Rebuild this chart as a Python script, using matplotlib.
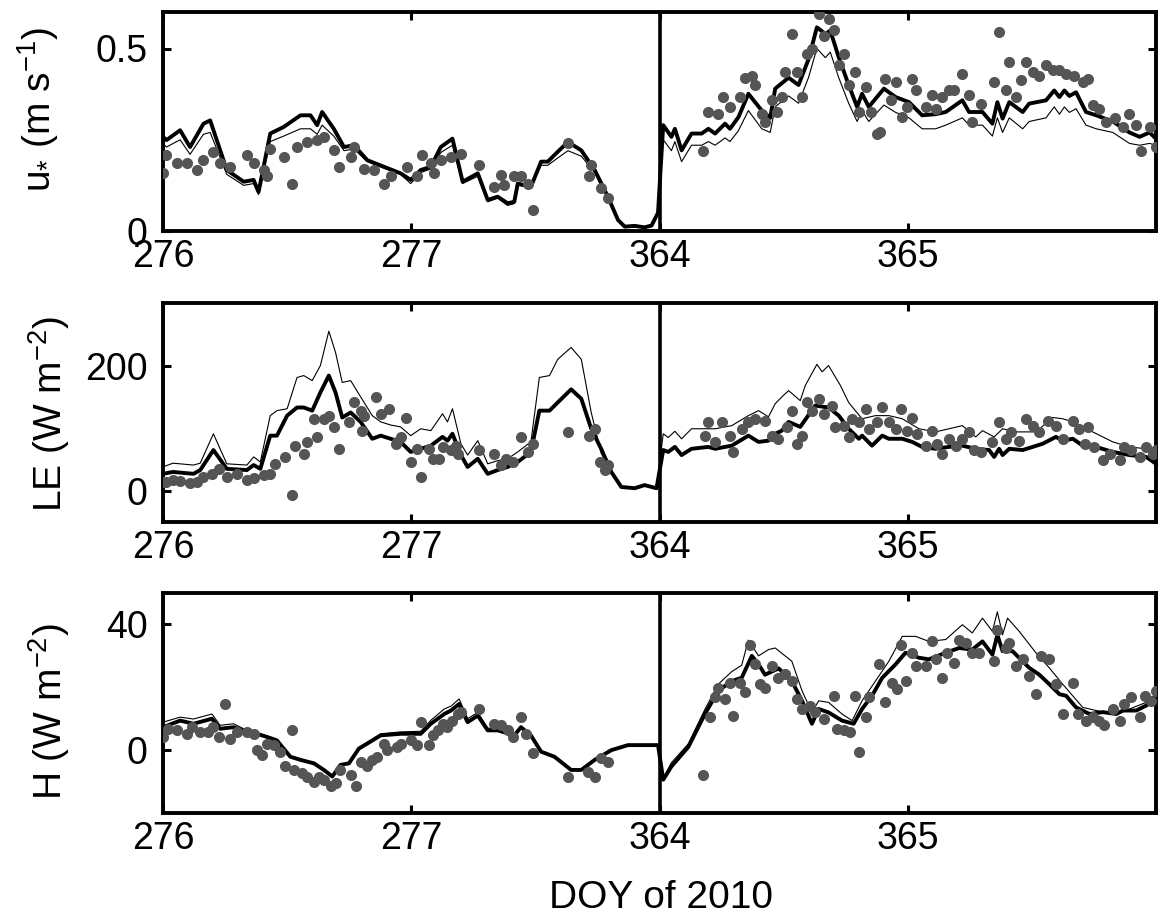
import matplotlib
matplotlib.use("Agg")
import matplotlib.pyplot as plt

plt.rcParams['font.family'] = ['Liberation Sans', 'DejaVu Sans']
plt.rcParams['mathtext.fontset'] = 'custom'
plt.rcParams['mathtext.rm'] = 'Liberation Sans'
plt.rcParams['mathtext.it'] = 'Liberation Sans'
plt.rcParams['mathtext.default'] = 'regular'

# x positions are days from the start of the plotted window:
# 0-2 -> DOY 276-278, 2-4 -> DOY 364-366 (two windows side by side)
tick_pos = [0, 1, 2, 3]
tick_labels = ['276', '277', '364', '365']

# ---- friction velocity u* ----
u_line_t = [0.00, 0.014, 0.069, 0.109, 0.163, 0.19, 0.257, 0.325, 0.365, 0.385,
            0.432, 0.486, 0.554, 0.594, 0.621, 0.641, 0.688, 0.729, 0.769, 0.823,
            0.89, 0.957, 0.998, 1.038, 1.079, 1.119, 1.166, 1.207, 1.268, 1.308,
            1.348, 1.388, 1.415, 1.429, 1.482, 1.523, 1.55, 1.59, 1.631, 1.685,
            1.739, 1.792, 1.833, 1.86, 1.9, 1.94, 1.968, 1.994,
            2.015, 2.048, 2.062, 2.089, 2.129, 2.17, 2.197, 2.224, 2.264, 2.284,
            2.318, 2.358, 2.412, 2.446, 2.466, 2.52, 2.56, 2.6, 2.634, 2.668,
            2.688, 2.722, 2.762, 2.796, 2.816, 2.843, 2.904, 2.951, 3.005, 3.058,
            3.112, 3.153, 3.22, 3.247, 3.301, 3.341, 3.361, 3.382, 3.409, 3.463,
            3.489, 3.557, 3.59, 3.611, 3.631, 3.651, 3.678, 3.718, 3.759, 3.826,
            3.893, 3.934, 3.974, 4.0]
u_thick = [0.258, 0.249, 0.276, 0.23, 0.294, 0.303, 0.167, 0.135, 0.14, 0.107,
           0.267, 0.285, 0.317, 0.317, 0.29, 0.326, 0.28, 0.23, 0.235, 0.194,
           0.176, 0.158, 0.14, 0.167, 0.176, 0.23, 0.253, 0.135, 0.158, 0.085,
           0.094, 0.076, 0.08, 0.13, 0.121, 0.19, 0.19, 0.217, 0.244, 0.221,
           0.167, 0.094, 0.03, 0.012, 0.014, 0.01, 0.015, 0.05,
           0.29, 0.258, 0.28, 0.221, 0.267, 0.267, 0.28, 0.267, 0.294, 0.28,
           0.312, 0.376, 0.33, 0.31, 0.39, 0.42, 0.40, 0.47, 0.558, 0.54,
           0.549, 0.476, 0.40, 0.34, 0.376, 0.34, 0.39, 0.367, 0.353, 0.317,
           0.32, 0.326, 0.358, 0.326, 0.326, 0.294, 0.353, 0.308, 0.353, 0.326,
           0.349, 0.358, 0.385, 0.367, 0.385, 0.37, 0.38, 0.326, 0.317, 0.30,
           0.27, 0.258, 0.27, 0.253]
u_thin = [0.24, 0.23, 0.25, 0.21, 0.265, 0.27, 0.155, 0.125, 0.13, 0.10,
          0.245, 0.26, 0.28, 0.28, 0.265, 0.29, 0.26, 0.22, 0.225, 0.19,
          0.172, 0.155, 0.13, 0.16, 0.17, 0.215, 0.235, 0.13, 0.15, 0.08,
          0.09, 0.07, 0.075, 0.125, 0.12, 0.18, 0.18, 0.20, 0.22, 0.205,
          0.16, 0.09, 0.03, 0.012, 0.014, 0.01, 0.015, 0.05,
          0.25, 0.22, 0.245, 0.19, 0.235, 0.235, 0.245, 0.235, 0.255, 0.245,
          0.275, 0.33, 0.28, 0.27, 0.34, 0.37, 0.35, 0.42, 0.50, 0.475,
          0.49, 0.42, 0.35, 0.30, 0.33, 0.30, 0.345, 0.325, 0.31, 0.28,
          0.28, 0.29, 0.31, 0.29, 0.29, 0.26, 0.31, 0.27, 0.31, 0.28,
          0.30, 0.31, 0.34, 0.32, 0.34, 0.325, 0.335, 0.29, 0.28, 0.27,
          0.24, 0.235, 0.24, 0.235]
u_obs_t = [0.00, 0.014, 0.055, 0.095, 0.136, 0.163, 0.203, 0.23, 0.27, 0.338,
           0.365, 0.405, 0.419, 0.432, 0.486, 0.52, 0.54, 0.581, 0.621, 0.648,
           0.688, 0.709, 0.756, 0.769, 0.81, 0.849, 0.89, 0.917, 0.984, 1.025,
           1.045, 1.079, 1.092, 1.119, 1.16, 1.2, 1.274, 1.335, 1.361, 1.375,
           1.415, 1.442, 1.469, 1.489, 1.631, 1.718, 1.725, 1.765, 1.792,
           2.177, 2.197, 2.237, 2.257, 2.284, 2.325, 2.345, 2.372, 2.385, 2.412,
           2.426, 2.453, 2.473, 2.493, 2.506, 2.533, 2.553, 2.574, 2.594, 2.614,
           2.641, 2.661, 2.681, 2.702, 2.722, 2.742, 2.762, 2.789, 2.803, 2.83,
           2.85, 2.877, 2.89, 2.91, 2.931, 2.951, 2.978, 2.998, 3.018, 3.032,
           3.072, 3.099, 3.112, 3.139, 3.166, 3.186, 3.22, 3.247, 3.26, 3.294,
           3.348, 3.368, 3.395, 3.409, 3.436, 3.456, 3.476, 3.503, 3.53, 3.557,
           3.584, 3.611, 3.638, 3.671, 3.705, 3.725, 3.745, 3.772, 3.799, 3.833,
           3.867, 3.893, 3.92, 3.941, 3.974, 4.0]
u_obs = [0.158, 0.208, 0.185, 0.185, 0.167, 0.194, 0.217, 0.185, 0.176, 0.208,
         0.185, 0.167, 0.15, 0.226, 0.203, 0.13, 0.23, 0.244, 0.249, 0.258,
         0.221, 0.176, 0.203, 0.23, 0.17, 0.167, 0.13, 0.15, 0.176, 0.15,
         0.208, 0.185, 0.158, 0.194, 0.203, 0.212, 0.18, 0.121, 0.153, 0.126,
         0.15, 0.15, 0.13, 0.057, 0.24, 0.15, 0.18, 0.117, 0.09,
         0.22, 0.326, 0.32, 0.367, 0.34, 0.367, 0.42, 0.426, 0.40, 0.32,
         0.30, 0.36, 0.326, 0.367, 0.435, 0.54, 0.435, 0.367, 0.485, 0.50,
         0.595, 0.535, 0.58, 0.55, 0.454, 0.485, 0.40, 0.435, 0.326, 0.394,
         0.326, 0.267, 0.272, 0.417, 0.358, 0.408, 0.312, 0.34, 0.417, 0.385,
         0.34, 0.372, 0.335, 0.367, 0.385, 0.385, 0.43, 0.372, 0.30, 0.349,
         0.408, 0.545, 0.385, 0.463, 0.367, 0.413, 0.463, 0.435, 0.426, 0.454,
         0.44, 0.44, 0.43, 0.426, 0.408, 0.417, 0.344, 0.335, 0.30, 0.31,
         0.285, 0.32, 0.29, 0.22, 0.285, 0.23]

# ---- latent heat flux LE ----
le_thick_t = [0.00, 0.04, 0.123, 0.15, 0.203, 0.257, 0.338, 0.365, 0.392, 0.432,
              0.459, 0.5, 0.54, 0.567, 0.601, 0.634, 0.668, 0.695, 0.722, 0.756,
              0.796, 0.843, 0.877, 0.917, 0.957, 0.998, 1.038, 1.079, 1.126, 1.146,
              1.166, 1.2, 1.227, 1.268, 1.308, 1.348, 1.388, 1.429, 1.482, 1.516,
              1.557, 1.59, 1.644, 1.685, 1.725, 1.765, 1.806, 1.846, 1.9, 1.94,
              1.968, 1.988,
              2.015, 2.035, 2.062, 2.089, 2.129, 2.197, 2.224, 2.291, 2.358, 2.399,
              2.439, 2.466, 2.493, 2.52, 2.567, 2.627, 2.681, 2.722, 2.762, 2.803,
              2.816, 2.856, 2.897, 2.924, 2.978, 3.018, 3.058, 3.112, 3.166, 3.22,
              3.274, 3.328, 3.348, 3.368, 3.382, 3.409, 3.463, 3.543, 3.597, 3.624,
              3.665, 3.705, 3.759, 3.826, 3.893, 3.961, 4.0]
le_thick = [27, 30, 27, 33, 65, 35, 33, 41, 35, 88,
            88, 120, 133, 133, 128, 157, 184, 157, 117, 125,
            110, 83, 88, 83, 78, 62, 67, 72, 86, 80,
            91, 57, 38, 51, 27, 33, 38, 46, 62, 128,
            128, 141, 162, 147, 99, 67, 30, 6, 4, 9,
            6, 4,
            65, 62, 70, 57, 67, 70, 67, 72, 88, 78,
            80, 91, 96, 110, 102, 136, 133, 120, 99, 83,
            88, 72, 88, 83, 83, 78, 70, 67, 70, 72,
            67, 65, 54, 67, 57, 67, 65, 75, 86, 80,
            83, 72, 70, 62, 57, 54, 43]
le_thin_t = [0.00, 0.04, 0.123, 0.15, 0.203, 0.257, 0.338, 0.365, 0.392, 0.432,
             0.459, 0.5, 0.54, 0.567, 0.601, 0.634, 0.668, 0.695, 0.722, 0.756,
             0.796, 0.843, 0.877, 0.917, 0.957, 0.998, 1.038, 1.079, 1.126, 1.146,
             1.166, 1.2, 1.227, 1.268, 1.308, 1.348, 1.388, 1.429, 1.482, 1.516,
             1.557, 1.59, 1.644, 1.685, 1.725, 1.765, 1.806, 1.846, 1.9, 1.94,
             1.968, 1.988,
             2.015, 2.035, 2.062, 2.089, 2.129, 2.197, 2.224, 2.291, 2.358, 2.399,
             2.439, 2.466, 2.493, 2.52, 2.567, 2.587, 2.634, 2.655, 2.681, 2.729,
             2.762, 2.816, 2.87, 2.924, 2.978, 3.045, 3.112, 3.166, 3.22, 3.274,
             3.301, 3.348, 3.382, 3.436, 3.516, 3.584, 3.624, 3.665, 3.745, 3.826,
             3.893, 3.961, 4.0]
le_thin = [38, 44, 41, 44, 91, 43, 41, 54, 46, 120,
           128, 131, 181, 184, 176, 200, 255, 221, 173, 176,
           150, 120, 110, 105, 102, 88, 99, 96, 123, 110,
           131, 75, 57, 80, 43, 48, 51, 62, 78, 181,
           184, 210, 229, 210, 125, 60, 32, 6, 4, 9,
           6, 4,
           91, 85, 95, 83, 99, 99, 99, 104, 120, 128,
           118, 139, 150, 160, 144, 168, 202, 190, 200, 168,
           141, 115, 120, 120, 115, 99, 94, 99, 104, 86,
           96, 86, 99, 94, 94, 117, 115, 110, 94, 78,
           70, 67, 62]
le_obs_t = [0.00, 0.014, 0.04, 0.069, 0.109, 0.136, 0.163, 0.197, 0.224, 0.257,
            0.297, 0.338, 0.365, 0.405, 0.432, 0.453, 0.493, 0.52, 0.533, 0.567,
            0.581, 0.608, 0.621, 0.648, 0.668, 0.688, 0.709, 0.749, 0.769, 0.796,
            0.803, 0.81, 0.856, 0.877, 0.91, 0.937, 0.944, 0.957, 0.977, 0.998,
            1.025, 1.038, 1.072, 1.086, 1.112, 1.126, 1.16, 1.18, 1.187, 1.274,
            1.335, 1.361, 1.382, 1.409, 1.442, 1.469, 1.489, 1.631, 1.718, 1.739,
            1.759, 1.779, 1.792,
            2.183, 2.197, 2.224, 2.251, 2.284, 2.298, 2.331, 2.358, 2.385, 2.425,
            2.452, 2.479, 2.513, 2.533, 2.553, 2.574, 2.594, 2.614, 2.641, 2.661,
            2.695, 2.708, 2.742, 2.762, 2.776, 2.803, 2.83, 2.843, 2.877, 2.897,
            2.924, 2.951, 2.971, 2.998, 3.018, 3.038, 3.072, 3.099, 3.119, 3.139,
            3.166, 3.193, 3.22, 3.247, 3.267, 3.294, 3.341, 3.368, 3.395, 3.415,
            3.449, 3.476, 3.503, 3.53, 3.564, 3.597, 3.624, 3.665, 3.691, 3.712,
            3.725, 3.752, 3.786, 3.813, 3.853, 3.873, 3.9, 3.934, 3.961, 3.988,
            4.0]
le_obs = [14, 14, 17, 15, 12, 14, 22, 27, 35, 22,
          27, 17, 20, 25, 27, 43, 54, -7, 72, 59,
          78, 115, 86, 115, 120, 102, 67, 110, 141, 128,
          96, 120, 149, 123, 131, 75, 78, 86, 117, 46,
          67, 22, 67, 51, 51, 70, 65, 72, 59, 65,
          59, 41, 51, 46, 86, 62, 75, 94, 88, 99,
          46, 33, 41,
          88, 110, 78, 110, 88, 62, 99, 110, 115, 112,
          88, 83, 102, 128, 75, 88, 141, 128, 147, 123,
          136, 102, 104, 86, 115, 110, 131, 99, 110, 133,
          110, 99, 131, 96, 117, 91, 72, 96, 75, 59,
          83, 72, 83, 94, 65, 62, 78, 110, 83, 94,
          80, 115, 104, 94, 112, 104, 83, 112, 99, 75,
          102, 70, 49, 59, 49, 70, 65, 54, 70, 59,
          65]

# ---- sensible heat flux H ----
h_thick_t = [0.00, 0.069, 0.123, 0.197, 0.23, 0.284, 0.338, 0.378, 0.419, 0.459,
             0.513, 0.554, 0.608, 0.648, 0.682, 0.715, 0.749, 0.789, 0.823, 0.877,
             0.957, 1.038, 1.079, 1.133, 1.16, 1.193, 1.227, 1.268, 1.308, 1.348,
             1.415, 1.442, 1.482, 1.523, 1.577, 1.644, 1.685, 1.739, 1.806, 1.873,
             1.994,
             2.015, 2.048, 2.116, 2.183, 2.237, 2.291, 2.331, 2.372, 2.399, 2.425,
             2.452, 2.48, 2.533, 2.574, 2.614, 2.641, 2.681, 2.735, 2.782, 2.816,
             2.856, 2.897, 2.951, 2.991, 3.045, 3.085, 3.153, 3.207, 3.26, 3.301,
             3.341, 3.361, 3.382, 3.422, 3.489, 3.53, 3.57, 3.611, 3.638, 3.678,
             3.732, 3.786, 3.84, 3.867, 3.92, 3.961, 4.0]
h_thick = [7.3, 9.4, 8.4, 10, 6.8, 7.3, 5.8, 5.2, 4.2, 3.1,
           -2.1, -3.1, -4.2, -6.3, -8.4, -4.7, -4.2, 0.5, 2.1, 4.7,
           5.2, 5.2, 8.4, 11.5, 12.6, 14.7, 8.9, 11, 6.3, 6.3,
           4.7, 7.3, 4.7, -0.5, -2.1, -6.3, -6.3, -3.1, 0, 1.6,
           1.6,
           -9.4, -5.2, 1, 11.5, 18.9, 22, 23, 30, 27.3, 24,
           25, 26, 22, 15.7, 8.4, 13.1, 12, 9.4, 8.4, 13.1,
           17.3, 23, 27.3, 31, 29.4, 28.9, 31, 32.5, 32, 34.6,
           30.4, 36.7, 31.5, 31.5, 26.2, 24, 21, 17.8, 17.3, 13.6,
           11.5, 12.1, 11.5, 12.6, 12.6, 14.2, 16.3]
h_thin_t = [0.00, 0.069, 0.123, 0.197, 0.23, 0.284, 0.338, 0.378, 0.419, 0.459,
            0.513, 0.554, 0.608, 0.648, 0.682, 0.715, 0.749, 0.789, 0.823, 0.877,
            0.957, 1.038, 1.079, 1.133, 1.16, 1.193, 1.227, 1.268, 1.308, 1.348,
            1.415, 1.442, 1.482, 1.523, 1.577, 1.644, 1.685, 1.739, 1.806, 1.873,
            1.994,
            2.015, 2.048, 2.116, 2.183, 2.237, 2.291, 2.331, 2.358, 2.399, 2.439,
            2.466, 2.533, 2.574, 2.614, 2.641, 2.681, 2.735, 2.776, 2.816, 2.87,
            2.924, 2.978, 3.032, 3.085, 3.153, 3.22, 3.26, 3.301, 3.341, 3.361,
            3.382, 3.402, 3.449, 3.516, 3.57, 3.624, 3.705, 3.759, 3.84, 3.893,
            3.961, 4.0]
h_thin = [8.9, 10.5, 9.9, 11.5, 7.9, 8.4, 6.3, 5.5, 4.5, 3.3,
          -1.8, -2.8, -4, -6, -8.2, -4.5, -4, 0.8, 2.5, 5.2,
          5.8, 6, 9.5, 13.1, 14, 16.3, 10, 12, 7, 6.8,
          5, 7.5, 5, -0.3, -2, -6, -6, -3, 0, 1.6,
          1.6,
          -9, -4, 2, 13, 21, 25, 27, 35, 30, 32,
          32.5, 28.3, 18.9, 12, 15.7, 15.2, 11.5, 9.4, 15.7, 22,
          28.3, 36.2, 36.2, 34.6, 35.2, 39.9, 37.3, 42, 37.8, 44,
          36.7, 42, 37.8, 31, 26.2, 21, 13.6, 12.6, 11.5, 13.1,
          15.2, 17.8]
h_obs_t = [0.00, 0.02, 0.055, 0.095, 0.116, 0.15, 0.183, 0.203, 0.224, 0.25,
           0.27, 0.297, 0.338, 0.365, 0.378, 0.399, 0.419, 0.446, 0.473, 0.493,
           0.52, 0.527, 0.56, 0.581, 0.608, 0.628, 0.648, 0.675, 0.695, 0.715,
           0.756, 0.776, 0.796, 0.823, 0.843, 0.863, 0.89, 0.903, 0.944, 0.957,
           0.998, 1.025, 1.038, 1.072, 1.086, 1.106, 1.126, 1.146, 1.166, 1.187,
           1.2, 1.274, 1.335, 1.361, 1.388, 1.409, 1.442, 1.462, 1.489, 1.631,
           1.712, 1.739, 1.765, 1.792,
           2.177, 2.203, 2.224, 2.237, 2.264, 2.284, 2.298, 2.325, 2.345, 2.365,
           2.385, 2.405, 2.425, 2.452, 2.479, 2.506, 2.533, 2.553, 2.574, 2.607,
           2.627, 2.661, 2.702, 2.715, 2.742, 2.769, 2.789, 2.803, 2.83, 2.843,
           2.883, 2.91, 2.937, 2.957, 2.971, 2.991, 3.018, 3.032, 3.072, 3.099,
           3.112, 3.139, 3.159, 3.186, 3.207, 3.234, 3.26, 3.287, 3.348, 3.361,
           3.395, 3.409, 3.436, 3.463, 3.489, 3.516, 3.537, 3.57, 3.597, 3.624,
           3.665, 3.685, 3.718, 3.745, 3.772, 3.792, 3.826, 3.853, 3.873, 3.9,
           3.934, 3.954, 3.981, 4.0]
h_obs = [4.2, 6.8, 6.3, 5.2, 7.3, 5.8, 5.8, 7.3, 4.2, 14.7,
         3.7, 5.8, 5.8, 5.2, 0, -1.6, 2.1, 1.6, -0.5, -5.2,
         6.3, -6.3, -7.3, -8.4, -10, -8.4, -9.4, -11.5, -10.5, -6.3,
         -7.9, -11.5, -3.7, -5.2, -3.1, -2.1, 2.1, 0, 1, 2.1,
         3.1, 1.6, 8.9, 1.6, 4.7, 6.3, 8.4, 7.3, 9.4, 11.5,
         12.1, 13.1, 8.4, 7.9, 6.3, 4.2, 10.5, 5.2, -1, -8.4,
         -6.8, -8.4, -2.6, -3.7,
         -7.9, 10.5, 16.8, 19.9, 16.3, 21.5, 11, 21.5, 18.4, 33.6,
         27.3, 21, 19.9, 26.8, 23.1, 24.1, 22, 16.3, 13.1, 14.2,
         12.1, 10, 17.3, 6.8, 6.3, 5.8, 17.3, -0.5, 10.5, 16.8,
         27.3, 15.2, 21.5, 19.4, 33.6, 22, 31, 26.8, 26.8, 34.6,
         28.9, 23.1, 31, 27.8, 35.2, 34.1, 31, 31, 28.3, 38.3,
         32.5, 34.1, 26.8, 28.9, 23.6, 17.8, 29.9, 28.9, 21, 11.5,
         21.5, 11.5, 9.4, 10.5, 9.4, 7.9, 13.1, 9.4, 14.7, 16.8,
         10.5, 17.3, 15.7, 18.9]

panels = [
    (u_line_t, u_thick, u_line_t, u_thin, u_obs_t, u_obs,
     (0, 0.6), [0, 0.5], ['0', '0.5'], 'u$_{*}$ (m s$^{-1}$)'),
    (le_thick_t, le_thick, le_thin_t, le_thin, le_obs_t, le_obs,
     (-50, 300), [0, 200], ['0', '200'], 'LE (W m$^{-2}$)'),
    (h_thick_t, h_thick, h_thin_t, h_thin, h_obs_t, h_obs,
     (-20, 50), [0, 40], ['0', '40'], 'H (W m$^{-2}$)'),
]

W, H = 1159, 918
fig = plt.figure(figsize=(W / 100, H / 100), dpi=100)

# axes boxes in pixels: (top, bottom); label centre (x, y)
boxes = [(12, 231), (303, 522), (593, 813)]
label_pos = [(38, 110), (49, 414), (49, 712)]
left_px, right_px = 163, 1156

for (tk, yk, tn, yn, to, yo, ylim, yt, ytl, ylab), (top, bot), (lx, ly) in zip(panels, boxes, label_pos):
    ax = fig.add_axes([left_px / W, 1 - bot / H, (right_px - left_px) / W, (bot - top) / H])
    ax.plot(tn, yn, color='black', lw=0.8, zorder=2)
    ax.plot(tk, yk, color='black', lw=2.8, zorder=3)
    ax.plot(to, yo, 'o', color='#555555', ms=8, mec='none', zorder=4)
    ax.axvline(2, color='black', lw=2.6, zorder=5)
    ax.set_xlim(0, 4)
    ax.set_ylim(*ylim)
    ax.set_xticks(tick_pos)
    ax.set_xticklabels(tick_labels)
    ax.set_yticks(yt)
    ax.set_yticklabels(ytl)
    ax.tick_params(axis='both', direction='in', top=True, right=True,
                   length=6, width=2.2, labelsize=27)
    ax.tick_params(axis='x', pad=6)
    ax.tick_params(axis='y', pad=11)
    for sp in ax.spines.values():
        sp.set_linewidth(2.8)
    fig.text(lx / W, 1 - ly / H, ylab, rotation=90, ha='center', va='center', fontsize=28)

fig.text(661 / W, 1 - 898 / H, 'DOY of 2010', ha='center', va='center', fontsize=28)

fig.savefig('out.png', dpi=100)
